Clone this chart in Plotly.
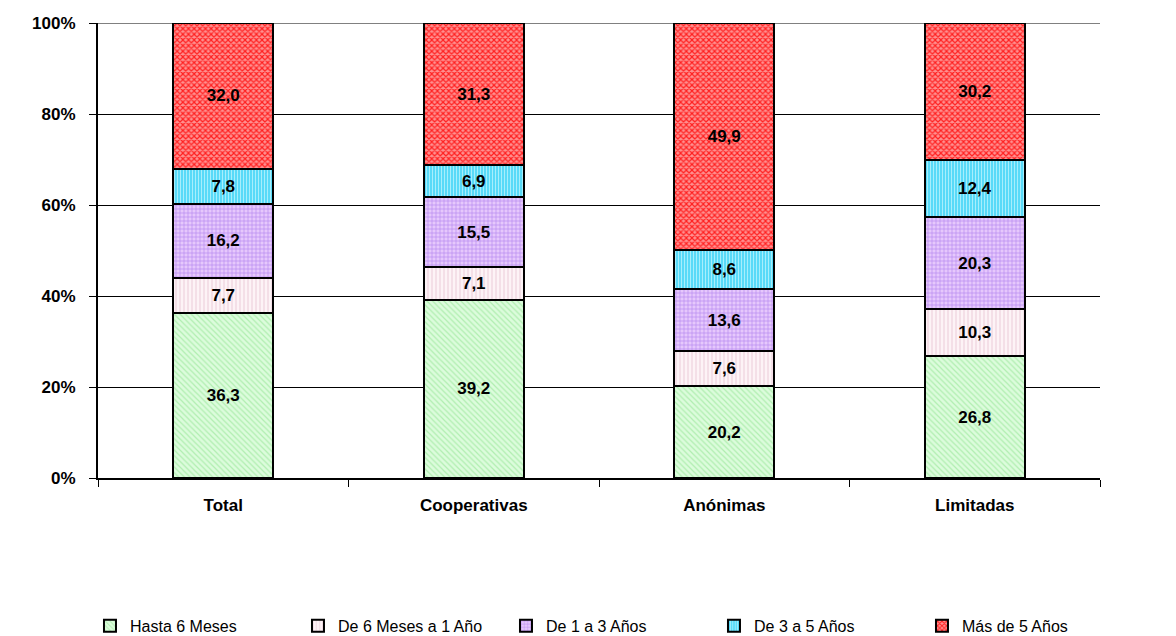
import plotly.graph_objects as go

categories = ["Total", "Cooperativas", "Anónimas", "Limitadas"]
series_names = ["Hasta 6 Meses", "De 6 Meses a 1 Año", "De 1 a 3 Años", "De 3 a 5 Años", "Más de 5 Años"]
hasta6 = [36.3, 39.2, 20.2, 26.8]
de6a1 = [7.7, 7.1, 7.6, 10.3]
de1a3 = [16.2, 15.5, 13.6, 20.3]
de3a5 = [7.8, 6.9, 8.6, 12.4]
mas5 = [32.0, 31.3, 49.9, 30.2]
y_ticks = [0, 20, 40, 60, 80, 100]
y_ticklabels = ["0%", "20%", "40%", "60%", "80%", "100%"]

series = [hasta6, de6a1, de1a3, de3a5, mas5]
styles = [
    dict(bg="#dcfcdc", fg="#b0eeb0", shape="\\", size=4, sol=0.3),
    dict(bg="#fdf3f6", fg="#ecccd8", shape="|", size=4, sol=0.25),
    dict(bg="#e6c8fc", fg="#b585f0", shape="+", size=4, sol=0.3),
    dict(bg="#4fd8f8", fg="#a6eefc", shape="|", size=3, sol=0.4),
    dict(bg="#ff9090", fg="#ff2020", shape="x", size=4, sol=0.5),
]

FONT = "Arial, Liberation Sans, sans-serif"

fig = go.Figure()
for name, vals, st in zip(series_names, series, styles):
    fig.add_trace(go.Bar(
        x=categories, y=vals, name=name,
        text=[f"{v:.1f}".replace(".", ",") for v in vals],
        textposition="inside", insidetextanchor="middle",
        textfont=dict(family=FONT, size=17, color="black", weight="bold"),
        textangle=0, constraintext="none",
        marker=dict(color=st["bg"], line=dict(color="black", width=2),
                    pattern=dict(shape=st["shape"], fgcolor=st["fg"], bgcolor=st["bg"],
                                 size=st["size"], solidity=st["sol"], fillmode="replace")),
        width=0.4,
    ))

fig.update_layout(
    barmode="stack", barnorm="percent",
    width=1176, height=636,
    margin=dict(l=90, r=84, t=15, b=166, autoexpand=False),
    plot_bgcolor="white", paper_bgcolor="white",
    font=dict(family=FONT, color="black"),
    showlegend=True,
    legend=dict(orientation="h", x=-0.008, xanchor="left", y=-0.325, yanchor="middle",
                font=dict(size=16, family=FONT, color="black"),
                traceorder="normal", itemwidth=30, entrywidth=163, entrywidthmode="pixels",
                tracegroupgap=0),
)
fig.update_yaxes(range=[0, 100], tickvals=y_ticks, ticktext=y_ticklabels,
                 showgrid=True, gridcolor="black", gridwidth=1,
                 showline=True, linecolor="black", linewidth=2,
                 ticks="outside", ticklen=7, tickcolor="black", tickwidth=1,
                 ticklabelstandoff=10, automargin=False,
                 tickfont=dict(size=17, weight="bold"), zeroline=False)
fig.update_xaxes(showline=True, linecolor="black", linewidth=2,
                 ticks="outside", ticklen=7, tickcolor="black", tickson="boundaries",
                 ticklabelstandoff=11, automargin=False,
                 tickfont=dict(size=17, weight="bold"), showgrid=False)
fig.add_shape(type="line", xref="paper", yref="y", x0=0, x1=1, y0=100, y1=100,
              line=dict(color="#808080", width=2), layer="below")

fig.write_html("out.html")
